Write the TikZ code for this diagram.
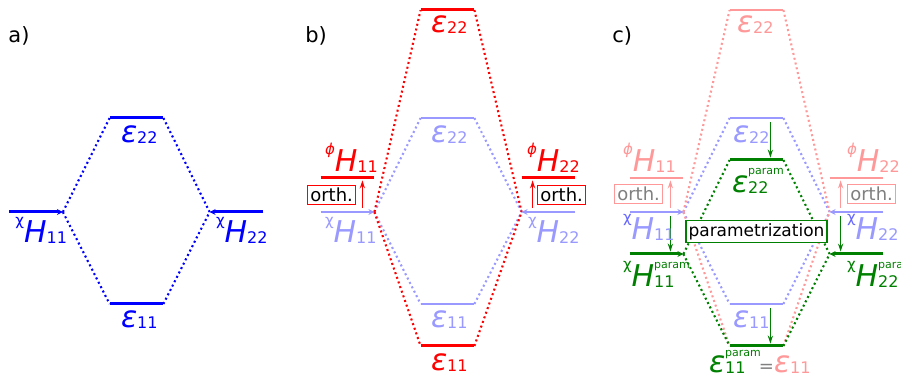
\documentclass[tikz,border=0pt]{standalone}
\usepackage{fontspec}
\setmainfont{DejaVu Sans}
\usetikzlibrary{arrows.meta,positioning,calc}

\definecolor{mblue}{RGB}{0,0,255}
\definecolor{mred}{RGB}{255,0,0}
\definecolor{mgreen}{RGB}{0,128,0}
\definecolor{fblue}{RGB}{153,153,255}
\definecolor{fred}{RGB}{255,153,153}
\definecolor{chiblue}{RGB}{102,102,255}

% pieces of the level labels
\newcommand{\lpre}[1]{\raisebox{0.58em}{\fontsize{7.5}{8}\selectfont #1}}
\newcommand{\lsub}[1]{\raisebox{-0.5pt}{\fontsize{8}{9}\selectfont #1}}
\newcommand{\lpar}[2]{\rlap{\lsub{#1}}\raisebox{#2}{\fontsize{5.5}{6}\selectfont param}}
\newcommand{\Hx}[2]{\lpre{#1}\textit{H}\lsub{#2}}
\newcommand{\Ex}[1]{\textit{ε}\lsub{#1}}

\tikzset{
  lvl/.style={inner sep=0pt,minimum width=26.5pt,minimum height=0pt},
  bar/.style={line width=1.5pt},
  fbar/.style={line width=1pt},
  tipbar/.style={-{Stealth[length=3pt,width=3pt]}},
  conn/.style={line width=1.05pt,dash pattern=on 1pt off 1.45pt},
  movearr/.style={line width=0.65pt,-{Stealth[length=4pt,width=2.6pt]},
                shorten <=2pt,shorten >=1.2pt},
  lab/.style={anchor=base west,inner sep=0pt,font=\fontsize{15}{17}\selectfont},
  plab/.style={anchor=base west,inner sep=0pt,font=\fontsize{10.5}{12}\selectfont},
  orthbox/.style={anchor=center,draw,line width=0.5pt,fill=white,inner sep=1.2pt,
                  font=\fontsize{9}{10}\selectfont},
  parbox/.style={draw=mgreen,line width=0.7pt,fill=white,inner sep=1.3pt,
                 font=\fontsize{8.5}{10}\selectfont},
}

\begin{document}
\begin{tikzpicture}[x=0.5pt,y=-0.5pt]
  \useasboundingbox (0,0) rectangle (901,378);

  %% a) bare levels
  \node[plab] (pa) at (8,43) {a)};
  \node[lvl] (aH1) at (36,212) {};
  \node[lvl] (aE2) at (136.5,118) {};
  \node[lvl] (aE1) at (136.5,304) {};
  \node[lvl] (aH2) at (236.5,212) {};
  \draw[conn,mblue] (aH1.east) -- (aE2.west) (aH1.east) -- (aE1.west)
                    (aE2.east) -- (aH2.west) (aE1.east) -- (aH2.west);
  \draw[bar,mblue,tipbar] (aH1.west) -- (aH1.east);
  \draw[bar,mblue,tipbar] (aH2.east) -- (aH2.west);
  \draw[bar,mblue] (aE2.west) -- (aE2.east);
  \draw[bar,mblue] (aE1.west) -- (aE1.east);
  \node[below=15.5pt of aH1.west,lab,xshift=3pt,mblue] (aH1l) {\Hx{χ}{11}};
  \node[below=15.5pt of aH2.west,lab,xshift=3pt,mblue] (aH2l) {\Hx{χ}{22}};
  \node[below=12.5pt of aE2.west,lab,xshift=5.5pt,mblue] (aE2l) {\Ex{22}};
  \node[below=12pt of aE1.west,lab,xshift=5.5pt,mblue] (aE1l) {\Ex{11}};

  %% b) orthogonalized
  \node[plab] (pb) at (305,43) {b)};
  \node[lvl] (bP1) at (347.5,178) {};
  \node[lvl] (bH1) at (347.5,212) {};
  \node[lvl] (bE2r) at (447.5,10) {};
  \node[lvl] (bE2) at (447.5,118) {};
  \node[lvl] (bE1) at (447.5,304) {};
  \node[lvl] (bE1r) at (447.5,346) {};
  \node[lvl] (bP2) at (548.5,178) {};
  \node[lvl] (bH2) at (548.5,212) {};
  \draw[conn,fblue] (bH1.east) -- (bE2.west) (bH1.east) -- (bE1.west)
                    (bE2.east) -- (bH2.west) (bE1.east) -- (bH2.west);
  \draw[conn,mred] (bH1.east) -- (bE2r.west) (bH1.east) -- (bE1r.west)
                   (bE2r.east) -- (bH2.west) (bE1r.east) -- (bH2.west);
  \draw[fbar,fblue,tipbar] (bH1.west) -- (bH1.east);
  \draw[fbar,fblue,tipbar] (bH2.east) -- (bH2.west);
  \draw[fbar,fblue] (bE2.west) -- (bE2.east);
  \draw[fbar,fblue] (bE1.west) -- (bE1.east);
  \draw[bar,mred] (bP1.west) -- (bP1.east);
  \draw[bar,mred] (bP2.west) -- (bP2.east);
  \draw[bar,mred] (bE2r.west) -- (bE2r.east);
  \draw[bar,mred] (bE1r.west) -- (bE1r.east);
  \draw[movearr,mred] ([xshift=-6pt]bH1.east) -- ([xshift=-6pt]bP1.east);
  \draw[movearr,mred] ([xshift=5.5pt]bH2.west) -- ([xshift=5.5pt]bP2.west);
  \node[above=8.5pt of bH1.west,orthbox,xshift=5.5pt,draw=mred] (bO1) {orth.};
  \node[above=8.5pt of bH2.west,orthbox,xshift=20pt,draw=mred] (bO2) {orth.};
  \node[above=3pt of bP1.west,lab,xshift=2pt,mred] (bP1l) {\Hx{\textit{ϕ}}{11}};
  \node[above=3pt of bP2.west,lab,xshift=2.5pt,mred] (bP2l) {\Hx{\textit{ϕ}}{22}};
  \node[below=15.5pt of bH1.west,lab,xshift=2pt,fblue] (bH1l) {\Hx{χ}{11}};
  \node[below=15.5pt of bH2.west,lab,xshift=3pt,fblue] (bH2l) {\Hx{χ}{22}};
  \node[below=11.5pt of bE2r.west,lab,xshift=5pt,mred] (bE2rl) {\Ex{22}};
  \node[below=12.5pt of bE2.west,lab,xshift=5pt,fblue] (bE2l) {\Ex{22}};
  \node[below=12pt of bE1.west,lab,xshift=5pt,fblue] (bE1l) {\Ex{11}};
  \node[below=12.5pt of bE1r.west,lab,xshift=5pt,mred] (bE1rl) {\Ex{11}};

  %% c) parametrized
  \node[plab] (pc) at (612,43) {c)};
  \node[lvl] (cP1) at (656.5,178) {};
  \node[lvl] (cH1) at (656.5,212) {};
  \node[lvl] (cQ1) at (656.5,254) {};
  \node[lvl] (cE2r) at (756.5,10) {};
  \node[lvl] (cE2) at (756.5,118) {};
  \node[lvl] (cF2) at (756.5,160) {};
  \node[lvl] (cE1) at (756.5,304) {};
  \node[lvl] (cF1) at (756.5,346) {};
  \node[lvl] (cP2) at (856.5,178) {};
  \node[lvl] (cH2) at (856.5,212) {};
  \node[lvl] (cQ2) at (856.5,254) {};
  \draw[conn,fblue] (cH1.east) -- (cE2.west) (cH1.east) -- (cE1.west)
                    (cE2.east) -- (cH2.west) (cE1.east) -- (cH2.west);
  \draw[conn,fred] (cH1.east) -- (cE2r.west) (cH1.east) -- (cF1.west)
                   (cE2r.east) -- (cH2.west) (cF1.east) -- (cH2.west);
  \draw[conn,mgreen] (cQ1.east) -- (cF2.west) (cQ1.east) -- (cF1.west)
                     (cF2.east) -- (cQ2.west) (cF1.east) -- (cQ2.west);
  \draw[fbar,fblue,tipbar] (cH1.west) -- (cH1.east);
  \draw[fbar,fblue,tipbar] (cH2.east) -- (cH2.west);
  \draw[fbar,fblue] (cE2.west) -- (cE2.east);
  \draw[fbar,fblue] (cE1.west) -- (cE1.east);
  \draw[fbar,fred] (cP1.west) -- (cP1.east);
  \draw[fbar,fred] (cP2.west) -- (cP2.east);
  \draw[fbar,fred] (cE2r.west) -- (cE2r.east);
  \draw[bar,mgreen,tipbar] (cQ1.west) -- (cQ1.east);
  \draw[bar,mgreen,tipbar] (cQ2.east) -- (cQ2.west);
  \draw[bar,mgreen] (cF2.west) -- (cF2.east);
  \draw[bar,mgreen] (cF1.west) -- (cF1.east);
  \draw[movearr,fred] ([xshift=-6.5pt]cH1.east) -- ([xshift=-6.5pt]cP1.east);
  \draw[movearr,fred] ([xshift=5.5pt]cH2.west) -- ([xshift=5.5pt]cP2.west);
  \draw[movearr,mgreen] ([xshift=-6.5pt]cH1.east) -- ([xshift=-6.5pt]cQ1.east);
  \draw[movearr,mgreen] ([xshift=5.5pt]cH2.west) -- ([xshift=5.5pt]cQ2.west);
  \draw[movearr,mgreen] ([xshift=-6.5pt]cE2.east) -- ([xshift=-6.5pt]cF2.east);
  \draw[movearr,mgreen] ([xshift=-6.5pt]cE1.east) -- ([xshift=-6.5pt]cF1.east);
  \node[above=9pt of cH1.west,orthbox,xshift=4.5pt,draw=fred,text=gray] (cO1) {orth.};
  \node[above=9pt of cH2.west,orthbox,xshift=21pt,draw=fred,text=gray] (cO2) {orth.};
  \node[parbox] (cPar) at ($(cH1.east)!0.5!(cH2.west)+(0,19.5)$) {parametrization};
  \node[above=3pt of cP1.west,lab,xshift=-3.5pt,fred] (cP1l) {\Hx{\textit{ϕ}}{11}};
  \node[above=3pt of cP2.west,lab,xshift=8.5pt,fred] (cP2l) {\Hx{\textit{ϕ}}{22}};
  \node[below=14pt of cH1.west,lab,xshift=-3.5pt,fblue] (cH1l) {\Hx{\textcolor{chiblue}{χ}}{11}};
  \node[below=14pt of cH2.west,lab,xshift=8.5pt,fblue] (cH2l) {\Hx{\textcolor{chiblue}{χ}}{22}};
  \node[below=16.5pt of cQ1.west,lab,xshift=-3.5pt,mgreen] (cQ1l) {\lpre{χ}\textit{H}\lpar{11}{0.6em}};
  \node[below=16.5pt of cQ2.west,lab,xshift=8.5pt,mgreen] (cQ2l) {\lpre{χ}\textit{H}\lpar{22}{0.6em}};
  \node[below=11.5pt of cE2r.west,lab,xshift=3.5pt,fred] (cE2rl) {\Ex{22}};
  \node[below=12.5pt of cE2.west,lab,xshift=1.5pt,fblue] (cE2l) {\Ex{22}};
  \node[below=16.5pt of cF2.west,lab,xshift=1pt,mgreen] (cF2l) {\textit{ε}\lpar{22}{0.6em}};
  \node[below=12pt of cE1.west,lab,xshift=1.5pt,fblue] (cE1l) {\Ex{11}};
  \node[below=13.5pt of cF1.west,lab,xshift=-10.5pt,mgreen] (cF1l)
    {\textit{ε}\lpar{11}{0.55em}\kern-1pt{\fontsize{9}{10}\selectfont\textcolor{gray}{=}}\textcolor{fred}{\Ex{11}}};
\end{tikzpicture}
\end{document}
